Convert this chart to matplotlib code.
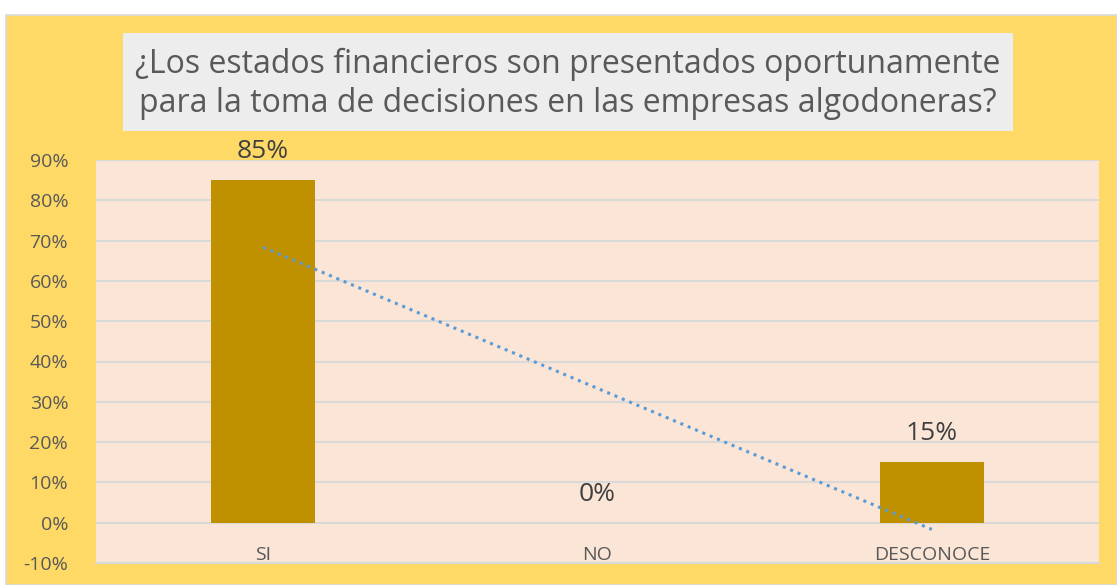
import numpy as np
import matplotlib.pyplot as plt
from matplotlib.patches import Rectangle
from matplotlib.ticker import PercentFormatter

plt.rcParams['font.family'] = ['Open Sans', 'DejaVu Sans']
plt.rcParams['axes.unicode_minus'] = False

categories = ['SI', 'NO', 'DESCONOCE']
values = [85, 0, 15]
title = ('¿Los estados financieros son presentados oportunamente\n'
         'para la toma de decisiones en las empresas algodoneras?')

W, H = 1117, 585
fig = plt.figure(figsize=(W / 100, H / 100), dpi=100)
fig.patch.set_facecolor('white')

# chart area background and border
fig.patches.append(Rectangle((6 / W, 0), 1 - 6 / W, 1 - 15 / H, transform=fig.transFigure,
                             facecolor='#FFD966', edgecolor='#D9D9D9', linewidth=1.2,
                             zorder=-10))

# title box
fig.patches.append(Rectangle((123 / W, 1 - 131 / H), 890 / W, 98 / H, transform=fig.transFigure,
                             facecolor='#EDEDED', edgecolor='none', zorder=-9))
fig.text(568 / W, 1 - 84 / H, title, ha='center', va='center', fontsize=23,
         color='#595959', linespacing=1.25)

ax = fig.add_axes([96 / W, 22 / H, 1003 / W, 403 / H])
ax.set_facecolor('#FBE5D6')

x = np.arange(len(categories))
ax.bar(x, values, width=0.31, color='#BF9000', linewidth=0, zorder=3)

# linear trendline
coef = np.polyfit(x, values, 1)
ax.plot(x, np.polyval(coef, x), linestyle=(0, (1, 1.6)), color='#5B9BD5',
        linewidth=2.2, zorder=4)

for xi, v in zip(x, values):
    ax.annotate(f'{v}%', (xi, v), xytext=(0, 20.5), textcoords='offset points',
                ha='center', va='center', fontsize=19, color='#404040',
                annotation_clip=False, zorder=5)

ax.set_xlim(-0.5, 2.5)
ax.set_ylim(-10, 90)
ax.set_yticks(np.arange(-10, 91, 10))
ax.yaxis.set_major_formatter(PercentFormatter(decimals=0))
ax.grid(axis='y', color='#D9D9D9', linewidth=1.5, zorder=0)
ax.set_axisbelow(True)
ax.set_xticks(x)
ax.set_xticklabels(categories)
ax.tick_params(axis='x', length=0, pad=-12, labelsize=14, labelcolor='#595959')
ax.tick_params(axis='y', length=0, pad=20, labelsize=14, labelcolor='#595959')
for s in ['left', 'right', 'top']:
    ax.spines[s].set_visible(False)
ax.spines['bottom'].set_color('#D9D9D9')
ax.spines['bottom'].set_linewidth(1.5)

fig.savefig('out.png', dpi=100)
